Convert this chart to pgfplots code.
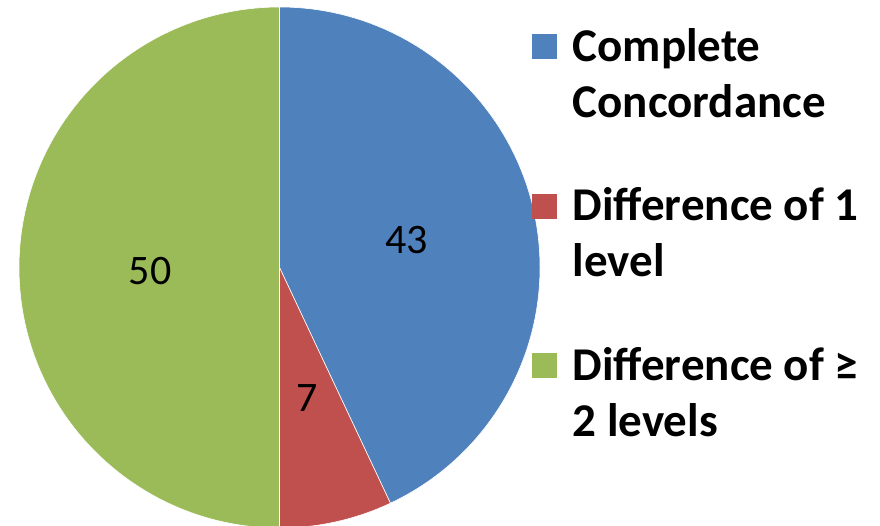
\documentclass[border=0pt]{standalone}
\usepackage{fontspec}
\setmainfont{Carlito}
\usepackage{pgfplots}
\pgfplotsset{compat=1.18}
\definecolor{pieblue}{RGB}{79,129,189}
\definecolor{piered}{RGB}{192,80,77}
\definecolor{piegreen}{RGB}{155,187,89}

\begin{document}
\begin{tikzpicture}
% shares, in percent
\pgfmathsetmacro\vA{43}
\pgfmathsetmacro\vB{7}
\pgfmathsetmacro\vC{50}
% sector angles, clockwise from the top
\pgfmathsetmacro\aA{90}
\pgfmathsetmacro\aB{\aA-3.6*\vA}
\pgfmathsetmacro\aC{\aB-3.6*\vB}
\pgfmathsetmacro\aD{\aC-3.6*\vC}
\begin{axis}[
    at={(0,0)}, anchor=south west,
    width=880pt, height=525pt, scale only axis,
    xmin=0, xmax=880, ymin=0, ymax=525,
    hide axis, clip=true,
    legend cell align=left,
    legend style={at={(axis cs:532,497)}, anchor=north west,
        draw=none, fill=none, inner sep=0pt, row sep=69pt,
        font=\fontsize{47}{56}\selectfont\bfseries,
        cells={align=left},
        nodes={inner sep=0pt},
        /tikz/every odd column/.append style={column sep=15.5pt}},
    legend image code/.code={\fill[draw=none,#1] (0pt,14pt) rectangle (25pt,39pt);},
]
\path (rel axis cs:0,0) rectangle (rel axis cs:1,1);
\fill[pieblue, draw=white, line width=0.6pt] (axis cs:279.5,257.5) -- ++(\aA:260.5pt)
    arc[start angle=\aA, end angle=\aB, radius=260.5pt] -- cycle;
\fill[piered, draw=white, line width=0.6pt] (axis cs:279.5,257.5) -- ++(\aB:260.5pt)
    arc[start angle=\aB, end angle=\aC, radius=260.5pt] -- cycle;
\fill[piegreen, draw=white, line width=0.6pt] (axis cs:279.5,257.5) -- ++(\aC:260.5pt)
    arc[start angle=\aC, end angle=\aD, radius=260.5pt] -- cycle;

\node[font=\fontsize{42}{48}\selectfont] at (axis cs:406.5,285) {43};
\node[font=\fontsize{42}{48}\selectfont] at (axis cs:307,127) {7};
\node[font=\fontsize{42}{48}\selectfont] at (axis cs:150,254) {50};

\addlegendimage{fill=pieblue, draw=none}
\addlegendentry{Complete\\Concordance}
\addlegendimage{fill=piered, draw=none}
\addlegendentry{Difference of 1\\level}
\addlegendimage{fill=piegreen, draw=none}
\addlegendentry{Difference of ≥\\2 levels}
\end{axis}
\end{tikzpicture}
\end{document}
